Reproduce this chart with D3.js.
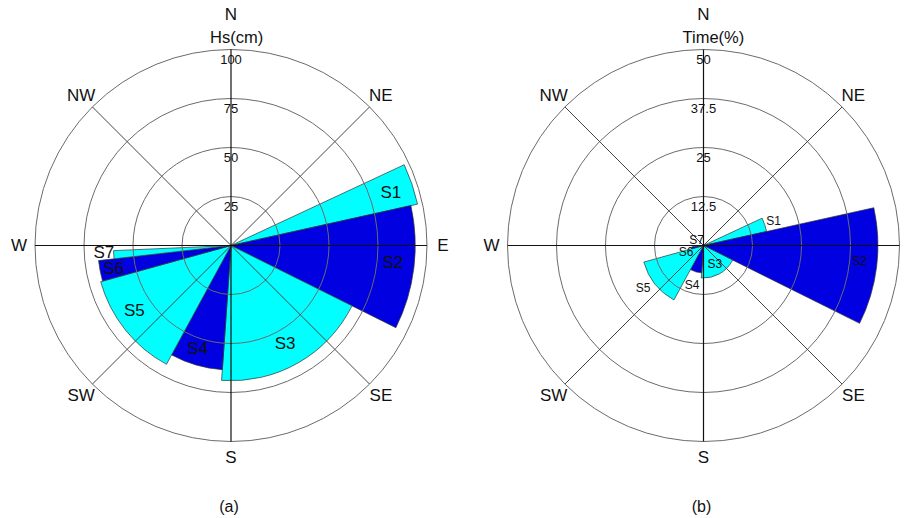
<!DOCTYPE html>
<html>
<head>
<meta charset="utf-8">
<script src="https://cdn.jsdelivr.net/npm/d3@7"></script>
<style>
  body { margin: 0; background: #fff; }
  text { font-family: Arial, "Liberation Sans", sans-serif; fill: #111; }
</style>
</head>
<body>
<script>
// sectors, bearing in degrees clockwise from north
const sectors = ["S1", "S2", "S3", "S4", "S5", "S6", "S7"];
const dirStart = [65, 77.5, 116.5, 184, 208.5, 254.5, 263.5];
const dirEnd = [77.5, 116.5, 184, 208.5, 254.5, 263.5, 267.5];
const hsValues = [97.5, 94, 69, 63.5, 69, 68, 60];      // Hs (cm)
const timeValues = [16.5, 44.5, 8.3, 7, 15.8, 3, 1.5];  // Time (%)
const hsTicks = [25, 50, 75, 100];
const timeTicks = [12.5, 25, 37.5, 50];
const compass = ["N", "NE", "E", "SE", "S", "SW", "W", "NW"];

// where the sector names sit (bearing, value units)
const hsLabelDir = [71.5, 96, 151, 198, 236, 259, 267];
const hsLabelAt = [86, 83, 57, 55, 59.5, 61, 65];
const timeLabelDir = [70.5, 95.7, 149, 196, 235, 251, 311];
const timeLabelAt = [19, 40, 5.6, 10.6, 18.8, 4.7, 2.3];

const W = 908, H = 518;
const R = 196;
const rad = Math.PI / 180;

const svg = d3.select("body").append("svg")
    .attr("width", W)
    .attr("height", H);

function drawRose(cx, cy, values, ticks, title, caption, labelDir, labelAt, labelSize) {
    const g = svg.append("g").attr("transform", "translate(" + cx + "," + cy + ")");
    const r = d3.scaleLinear().domain([0, ticks[ticks.length - 1]]).range([0, R]);
    const pt = (deg, v) => [Math.sin(deg * rad) * r(v), -Math.cos(deg * rad) * r(v)];

    const arc = d3.arc()
        .innerRadius(0)
        .outerRadius((d, i) => r(d))
        .startAngle((d, i) => dirStart[i] * rad)
        .endAngle((d, i) => dirEnd[i] * rad);

    // sectors
    g.selectAll("path.sector")
        .data(values)
        .enter()
        .append("path")
        .attr("class", "sector")
        .attr("d", (d, i) => arc(d, i))
        .style("fill", (d, i) => i % 2 == 0 ? "#00ffff" : "#0000e0")
        .style("stroke", "#333")
        .style("stroke-width", 0.7);

    // rings
    g.selectAll("circle.ring")
        .data(ticks)
        .enter()
        .append("circle")
        .attr("class", "ring")
        .attr("r", d => r(d))
        .style("fill", "none")
        .style("stroke", "#6b6b6b")
        .style("stroke-width", 1);

    // diagonals
    [45, 135, 225, 315].forEach(a => {
        const p = pt(a, ticks[ticks.length - 1]);
        g.append("line")
            .attr("x1", 0).attr("y1", 0)
            .attr("x2", p[0]).attr("y2", p[1])
            .style("stroke", "#444")
            .style("stroke-width", 1);
    });
    // main axes
    g.append("line")
        .attr("x1", -R).attr("x2", R).attr("y1", 0).attr("y2", 0)
        .style("stroke", "#111").style("stroke-width", 1.2);
    g.append("line")
        .attr("x1", 0).attr("x2", 0).attr("y1", -R).attr("y2", R)
        .style("stroke", "#111").style("stroke-width", 1.2);

    // tick labels on the north line
    g.selectAll("text.tick")
        .data(ticks)
        .enter()
        .append("text")
        .attr("class", "tick")
        .attr("x", 0)
        .attr("y", d => -r(d) + 10)
        .attr("text-anchor", "middle")
        .attr("dominant-baseline", "central")
        .style("font-size", "13px")
        .text(d => d);

    // compass labels
    compass.forEach((c, i) => {
        const a = i * 45;
        let x = Math.sin(a * rad) * 212, y = -Math.cos(a * rad) * 212;
        if (c == "N") y = -231;
        g.append("text")
            .attr("x", x).attr("y", y)
            .attr("text-anchor", "middle")
            .attr("dominant-baseline", "central")
            .style("font-size", "17px")
            .text(c);
    });

    g.append("text")
        .attr("x", -21).attr("y", -209)
        .attr("dominant-baseline", "central")
        .style("font-size", "16.5px")
        .text(title);

    // sector names
    g.selectAll("text.name")
        .data(sectors)
        .enter()
        .append("text")
        .attr("class", "name")
        .attr("x", (d, i) => pt(labelDir[i], labelAt[i])[0])
        .attr("y", (d, i) => pt(labelDir[i], labelAt[i])[1])
        .attr("text-anchor", "middle")
        .attr("dominant-baseline", "central")
        .style("font-size", labelSize + "px")
        .text(d => d);

    svg.append("text")
        .attr("x", cx - 2).attr("y", 506)
        .attr("text-anchor", "middle")
        .attr("dominant-baseline", "central")
        .style("font-size", "16px")
        .text(caption);
}

drawRose(231, 245.5, hsValues, hsTicks, "Hs(cm)", "(a)", hsLabelDir, hsLabelAt, 17);
drawRose(703.5, 245.5, timeValues, timeTicks, "Time(%)", "(b)", timeLabelDir, timeLabelAt, 12);
</script>
</body>
</html>
